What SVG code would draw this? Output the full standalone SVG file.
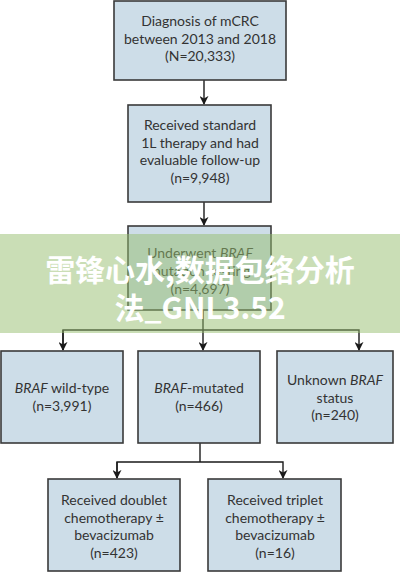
<svg xmlns="http://www.w3.org/2000/svg" width="400" height="572" viewBox="0 0 400 572">
<defs>
<marker id="ah" viewBox="0 0 10 10" refX="9" refY="5" markerWidth="9" markerHeight="9" markerUnits="userSpaceOnUse" orient="auto">
<path d="M0,0 L10,5 L0,10 L3,5 z" fill="#1a1a1a"/>
</marker>
<style>
.box{fill:#cddde8;stroke:#3a3a3a;stroke-width:1.6}
.t{font-family:Lato,"Open Sans",sans-serif;font-size:14px;fill:#333;text-anchor:middle}
.c{fill:none;stroke:#1a1a1a;stroke-width:1.4}
.wm{font-family:"Noto Sans CJK SC","Noto Sans",sans-serif;font-weight:bold;font-size:30px;fill:#fff;text-anchor:middle}
</style>
</defs>
<rect width="400" height="572" fill="#fff"/>
<g id="connectors">
<line class="c" x1="204" y1="80" x2="204" y2="104" marker-end="url(#ah)"/>
<line class="c" x1="204" y1="202" x2="204" y2="225" marker-end="url(#ah)"/>
<polyline class="c" points="203,310 203,330"/>
<polyline class="c" points="63,350 63,330 359,330 359,350" marker-end="url(#ah)"/>
<line class="c" x1="63" y1="330" x2="63" y2="350" marker-end="url(#ah)"/>
<line class="c" x1="203" y1="330" x2="203" y2="350" marker-end="url(#ah)"/>
<polyline class="c" points="200,443 200,462"/>
<polyline class="c" points="117,478 117,462 283,462 283,478" marker-end="url(#ah)"/>
<line class="c" x1="117" y1="462" x2="117" y2="478" marker-end="url(#ah)"/>
</g>
<g id="n1">
<rect class="box" x="114" y="1" width="172" height="79"/>
<text class="t" x="200" y="26">Diagnosis of mCRC</text>
<text class="t" x="200" y="43.5">between 2013 and 2018</text>
<text class="t" x="200" y="61">(N=20,333)</text>
</g>
<g id="n2">
<rect class="box" x="128" y="105" width="143" height="97"/>
<text class="t" x="200" y="130">Received standard</text>
<text class="t" x="200" y="147.5">1L therapy and had</text>
<text class="t" x="200" y="165">evaluable follow-up</text>
<text class="t" x="200" y="182.5">(n=9,948)</text>
</g>
<g id="n3">
<rect class="box" x="128" y="226" width="143" height="84"/>
<text class="t" x="200" y="258">Underwent <tspan font-style="italic">BRAF</tspan></text>
<text class="t" x="200" y="276">mutation testing</text>
<text class="t" x="200" y="294">(n=4,697)</text>
</g>
<g id="n4">
<rect class="box" x="1" y="351" width="122" height="92"/>
<text class="t" x="62" y="393"><tspan font-style="italic">BRAF</tspan> wild-type</text>
<text class="t" x="62" y="410.5">(n=3,991)</text>
</g>
<g id="n5">
<rect class="box" x="138" y="351" width="122" height="92"/>
<text class="t" x="199" y="393"><tspan font-style="italic">BRAF</tspan>-mutated</text>
<text class="t" x="199" y="410.5">(n=466)</text>
</g>
<g id="n6">
<rect class="box" x="277" y="351" width="116" height="92"/>
<text class="t" x="335" y="385">Unknown <tspan font-style="italic">BRAF</tspan></text>
<text class="t" x="335" y="402.5">status</text>
<text class="t" x="335" y="420">(n=240)</text>
</g>
<g id="n7">
<rect class="box" x="48" y="479" width="132" height="92"/>
<text class="t" x="114" y="505">Received doublet</text>
<text class="t" x="114" y="522.5">chemotherapy ±</text>
<text class="t" x="114" y="540">bevacizumab</text>
<text class="t" x="114" y="557.5">(n=423)</text>
</g>
<g id="n8">
<rect class="box" x="208" y="479" width="133" height="92"/>
<text class="t" x="275" y="505">Received triplet</text>
<text class="t" x="275" y="522.5">chemotherapy ±</text>
<text class="t" x="275" y="540">bevacizumab</text>
<text class="t" x="275" y="557.5">(n=16)</text>
</g>
<g id="watermark">
<rect x="0" y="234" width="400" height="99" fill="#95bd6e" opacity="0.5"/>
<text class="wm" x="200" y="281">雷锋心水,数据包络分析</text>
<text class="wm" x="200" y="319">法_GNL3.52</text>
</g>
</svg>
